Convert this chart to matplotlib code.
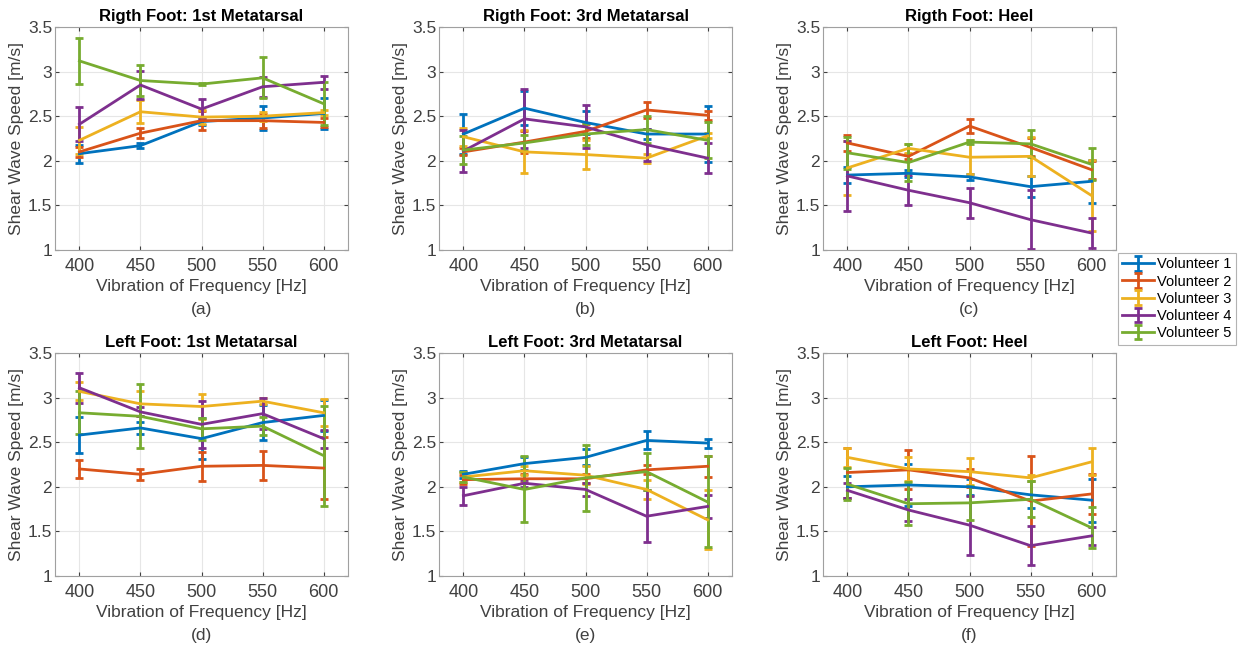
import numpy as np
import matplotlib.pyplot as plt

freq = [400, 450, 500, 550, 600]
volunteers = ['Volunteer 1', 'Volunteer 2', 'Volunteer 3', 'Volunteer 4', 'Volunteer 5']
colors = ['#0072BD', '#D95319', '#EDB120', '#7E2F8E', '#77AC30']

titles = ['Rigth Foot: 1st Metatarsal', 'Rigth Foot: 3rd Metatarsal', 'Rigth Foot: Heel',
          'Left Foot: 1st Metatarsal', 'Left Foot: 3rd Metatarsal', 'Left Foot: Heel']
letters = ['(a)', '(b)', '(c)', '(d)', '(e)', '(f)']

# mean values, one row per volunteer
r_met1 = [[2.08, 2.17, 2.44, 2.48, 2.53],
          [2.10, 2.31, 2.45, 2.45, 2.43],
          [2.23, 2.55, 2.49, 2.50, 2.54],
          [2.41, 2.85, 2.58, 2.83, 2.88],
          [3.12, 2.90, 2.86, 2.93, 2.64]]
r_met1_err = [[0.10, 0.03, 0.04, 0.13, 0.17],
              [0.06, 0.06, 0.11, 0.08, 0.05],
              [0.15, 0.13, 0.08, 0.05, 0.03],
              [0.19, 0.16, 0.11, 0.11, 0.07],
              [0.26, 0.17, 0.01, 0.23, 0.24]]

r_met3 = [[2.30, 2.59, 2.43, 2.30, 2.30],
          [2.10, 2.21, 2.33, 2.57, 2.51],
          [2.27, 2.10, 2.07, 2.03, 2.28],
          [2.11, 2.47, 2.38, 2.18, 2.03],
          [2.12, 2.20, 2.30, 2.35, 2.23]]
r_met3_err = [[0.22, 0.19, 0.13, 0.06, 0.31],
              [0.04, 0.12, 0.08, 0.09, 0.05],
              [0.10, 0.24, 0.16, 0.05, 0.03],
              [0.23, 0.33, 0.24, 0.18, 0.17],
              [0.16, 0.09, 0.12, 0.15, 0.20]]

r_heel = [[1.84, 1.86, 1.82, 1.71, 1.77],
          [2.20, 2.05, 2.39, 2.15, 1.90],
          [1.92, 2.14, 2.04, 2.05, 1.61],
          [1.83, 1.67, 1.53, 1.34, 1.19],
          [2.09, 1.98, 2.21, 2.19, 1.96]]
r_heel_err = [[0.09, 0.04, 0.03, 0.12, 0.24],
              [0.09, 0.03, 0.08, 0.10, 0.10],
              [0.30, 0.05, 0.19, 0.22, 0.40],
              [0.39, 0.17, 0.17, 0.33, 0.17],
              [0.18, 0.21, 0.02, 0.15, 0.18]]

l_met1 = [[2.58, 2.66, 2.54, 2.72, 2.80],
          [2.20, 2.14, 2.23, 2.24, 2.21],
          [3.07, 2.93, 2.90, 2.96, 2.83],
          [3.11, 2.84, 2.70, 2.82, 2.54],
          [2.83, 2.79, 2.65, 2.68, 2.35]]
l_met1_err = [[0.20, 0.07, 0.23, 0.20, 0.17],
              [0.10, 0.06, 0.16, 0.16, 0.35],
              [0.10, 0.14, 0.14, 0.03, 0.15],
              [0.17, 0.05, 0.26, 0.17, 0.10],
              [0.24, 0.36, 0.12, 0.10, 0.56]]

l_met3 = [[2.14, 2.26, 2.33, 2.52, 2.49],
          [2.08, 2.09, 2.09, 2.19, 2.23],
          [2.11, 2.18, 2.13, 1.97, 1.63],
          [1.90, 2.04, 1.97, 1.67, 1.78],
          [2.11, 1.97, 2.10, 2.17, 1.83]]
l_met3_err = [[0.04, 0.07, 0.09, 0.10, 0.05],
              [0.05, 0.05, 0.05, 0.05, 0.12],
              [0.06, 0.05, 0.10, 0.11, 0.33],
              [0.10, 0.04, 0.07, 0.29, 0.13],
              [0.06, 0.37, 0.37, 0.21, 0.51]]

l_heel = [[2.00, 2.02, 2.00, 1.91, 1.85],
          [2.16, 2.19, 2.10, 1.84, 1.92],
          [2.33, 2.20, 2.17, 2.10, 2.28],
          [1.96, 1.74, 1.57, 1.34, 1.45],
          [2.03, 1.81, 1.82, 1.86, 1.54]]
l_heel_err = [[0.12, 0.24, 0.09, 0.15, 0.24],
              [0.28, 0.22, 0.10, 0.50, 0.22],
              [0.11, 0.13, 0.15, 0.03, 0.15],
              [0.08, 0.12, 0.33, 0.22, 0.10],
              [0.18, 0.24, 0.19, 0.20, 0.23]]

means = [r_met1, r_met3, r_heel, l_met1, l_met3, l_heel]
errs = [r_met1_err, r_met3_err, r_heel_err, l_met1_err, l_met3_err, l_heel_err]

plt.rcParams['font.family'] = ['Liberation Sans', 'DejaVu Sans']

fig = plt.figure(figsize=(12.38, 6.46), dpi=100)
lefts = [55 / 1238, 439 / 1238, 823 / 1238]
bottoms = [1 - 250 / 646, 1 - 576 / 646]
w = 293 / 1238
h = 223 / 646

handles = []
for i in range(6):
    ax = fig.add_axes([lefts[i % 3], bottoms[i // 3], w, h])
    for v in range(5):
        eb = ax.errorbar(freq, means[i][v], yerr=errs[i][v], color=colors[v],
                         lw=2, capsize=3, capthick=2, elinewidth=2)
        if i == 0:
            handles.append(eb)
    ax.set_xlim(380, 620)
    ax.set_ylim(1, 3.5)
    ax.set_xticks(freq)
    ax.set_yticks([1, 1.5, 2, 2.5, 3, 3.5])
    ax.set_yticklabels(['1', '1.5', '2', '2.5', '3', '3.5'])
    ax.grid(True, color='#e6e6e6', lw=0.8)
    ax.set_axisbelow(True)
    for s in ax.spines.values():
        s.set_color('#a0a0a0')
    ax.tick_params(colors='#404040', labelsize=13, length=3, direction='in',
                   top=True, right=True)
    ax.tick_params(axis='x', pad=6)
    ax.tick_params(axis='y', labelsize=12.5, pad=2)
    ax.set_title(titles[i], fontsize=12, fontweight='bold', pad=4)
    ax.set_xlabel('Vibration of Frequency [Hz]', fontsize=12.5, color='#404040', labelpad=3)
    ax.set_ylabel('Shear Wave Speed [m/s]', fontsize=12.5, color='#404040')
    ax.yaxis.set_label_coords(-0.105, 0.5)
    ax.text(0.5, -0.265, letters[i], transform=ax.transAxes, ha='center', va='center',
            fontsize=12.5, color='#404040')

leg = fig.legend(handles, volunteers, loc='upper left',
                 bbox_to_anchor=(1118 / 1238, 1 - 253 / 646),
                 fontsize=10.5, frameon=True, fancybox=False, borderpad=0.3,
                 borderaxespad=0, handlelength=2.2, handletextpad=0.2, labelspacing=0.22)
leg.get_frame().set_edgecolor('#a0a0a0')
leg.get_frame().set_linewidth(0.8)

fig.savefig('out.png', dpi=100)
